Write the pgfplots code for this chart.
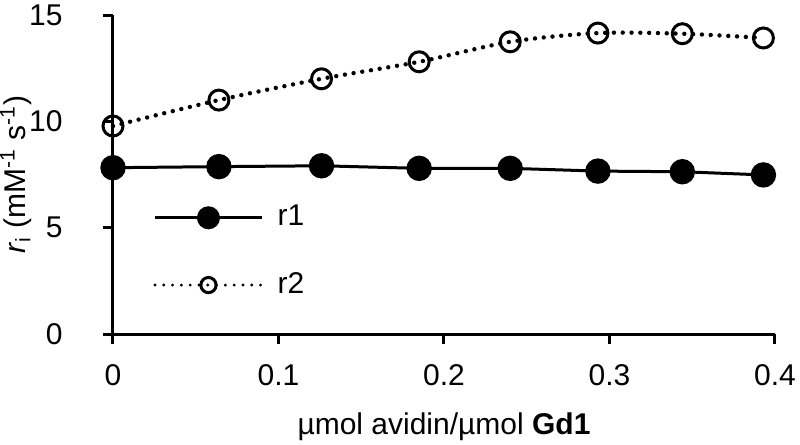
\documentclass[border=0pt]{standalone}
\usepackage{pgfplots}
\pgfplotsset{compat=1.18}
\usepackage{fontspec}
\setmainfont{Liberation Sans}
\pgfplotsset{
 r1img/.style={legend image code/.code={\draw[##1] (0pt,0pt) -- (53.5pt,0pt); \draw[##1, mark size=5pt] plot coordinates {(26.75pt,0pt)};}},
 r2img/.style={legend image code/.code={\draw[##1, line width=1.6pt] (0pt,0pt) -- (53.5pt,0pt); \draw[##1, mark size=3.8pt] plot coordinates {(26.75pt,0pt)};}},
}
\begin{document}
\fontsize{15}{17}\selectfont
\begin{tikzpicture}
\useasboundingbox (-56.5pt,-55.5pt) rectangle (343.5pt,167pt);
\begin{axis}[
 at={(0pt,0pt)}, anchor=south west,
 scale only axis, width=331pt, height=159.5pt,
 xmin=0, xmax=0.4, ymin=0, ymax=15,
 axis x line*=bottom, axis y line*=left,
 axis line style={line width=1.5pt, -},
 xtick={0,0.1,0.2,0.3,0.4}, ytick={0,5,10,15},
 tick align=outside, major tick length=5pt,
 every tick/.style={black, line width=1.5pt},
 tick label style={font=\fontsize{15}{17}\selectfont},
 /pgf/number format/assume math mode=true,
 xticklabel style={/pgf/number format/fixed, /pgf/number format/precision=1, yshift=-5pt},
 yticklabel style={anchor=east, inner sep=0pt, xshift=-20pt},
 xlabel={µmol avidin/µmol \textbf{Gd1}},
 ylabel={\textit{r}\textsubscript{i} (mM\textsuperscript{-1} s\textsuperscript{-1})},
 xlabel style={at={(axis description cs:0.5,-0.292)}, anchor=center, font=\fontsize{15}{17}\selectfont},
 ylabel style={at={(axis description cs:-0.147,0.5)}, anchor=center, font=\fontsize{15}{17}\selectfont},
 clip=false,
 legend style={draw=none, fill=none, at={(0.0604,0.405)}, anchor=north west, inner sep=0pt,
   row sep=21pt, column sep=7pt, font=\fontsize{15}{17}\selectfont,
   nodes={inner sep=0pt}},
 legend cell align=left,
]
\addplot[black, line width=1.5pt, mark=*, mark size=5.6pt, r1img]
 coordinates {
 (0,7.82) (0.064,7.87) (0.126,7.91) (0.185,7.79) (0.240,7.79) (0.293,7.66) (0.344,7.63) (0.393,7.48)
 };
\addlegendentry{r1}
\addplot[black, line width=2.2pt, line cap=round, dash pattern=on 0pt off 4.4pt, smooth,
  mark=o, mark size=5pt, mark options={solid, line width=1.5pt}, r2img]
 coordinates {
 (0,9.78) (0.064,11.0) (0.126,12.0) (0.185,12.8) (0.240,13.74) (0.293,14.15) (0.344,14.12) (0.393,13.92)
 };
\addlegendentry{r2}
\end{axis}
\end{tikzpicture}
\end{document}
